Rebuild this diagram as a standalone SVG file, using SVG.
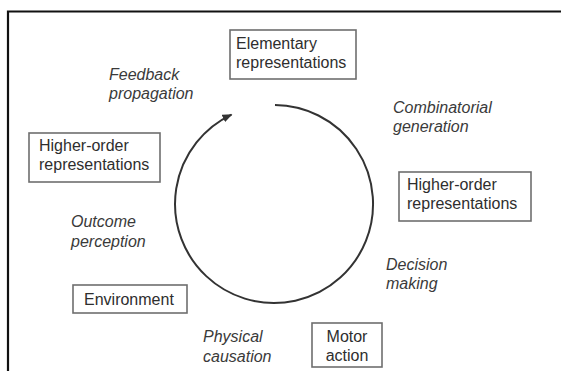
<svg xmlns="http://www.w3.org/2000/svg" width="561" height="371" viewBox="0 0 561 371">
<style>
.box{fill:#fff;stroke:#6e6e6e;stroke-width:1.6}
.t{font-family:"Liberation Sans",Arial,sans-serif;font-size:16px;fill:#2e2e2e}
.i{font-family:"Liberation Sans",Arial,sans-serif;font-size:16px;font-style:italic;fill:#3a3a3a}
.edge{fill:none;stroke:#333;stroke-width:2}
</style>
<defs>
<marker id="ah" markerWidth="10" markerHeight="8" refX="9" refY="4" orient="auto" markerUnits="userSpaceOnUse">
<path d="M0,0 L10,4 L0,8 Z" fill="#333"/>
</marker>
</defs>
<rect width="561" height="371" fill="#fff"/>
<g id="frame">
<path d="M8,371 L8,11.5 L561,11.5" fill="none" stroke="#111" stroke-width="2.2"/>
</g>
<g id="connectors">
<path class="edge" d="M275,105 A99,99 0 1 1 231.5,114.6" marker-end="url(#ah)"/>
</g>
<g id="elementary">
<rect class="box" x="230" y="30" width="126" height="49"/>
<text class="t" x="236" y="49">Elementary</text>
<text class="t" x="236" y="68">representations</text>
</g>
<g id="higher-left">
<rect class="box" x="29" y="133" width="131" height="49"/>
<text class="t" x="39" y="151">Higher-order</text>
<text class="t" x="39" y="170">representations</text>
</g>
<g id="higher-right">
<rect class="box" x="399" y="172" width="132" height="49"/>
<text class="t" x="407" y="190">Higher-order</text>
<text class="t" x="407" y="209">representations</text>
</g>
<g id="environment">
<rect class="box" x="73" y="285" width="114" height="28"/>
<text class="t" x="84" y="305">Environment</text>
</g>
<g id="motor">
<rect class="box" x="312" y="323" width="70" height="44"/>
<text class="t" x="347" y="342" text-anchor="middle">Motor</text>
<text class="t" x="347" y="361" text-anchor="middle">action</text>
</g>
<g id="labels">
<text class="i" x="109" y="80">Feedback</text>
<text class="i" x="109" y="99">propagation</text>
<text class="i" x="393" y="113">Combinatorial</text>
<text class="i" x="393" y="132">generation</text>
<text class="i" x="71" y="227">Outcome</text>
<text class="i" x="71" y="247">perception</text>
<text class="i" x="386" y="270">Decision</text>
<text class="i" x="386" y="289">making</text>
<text class="i" x="203" y="342">Physical</text>
<text class="i" x="203" y="362">causation</text>
</g>
</svg>
